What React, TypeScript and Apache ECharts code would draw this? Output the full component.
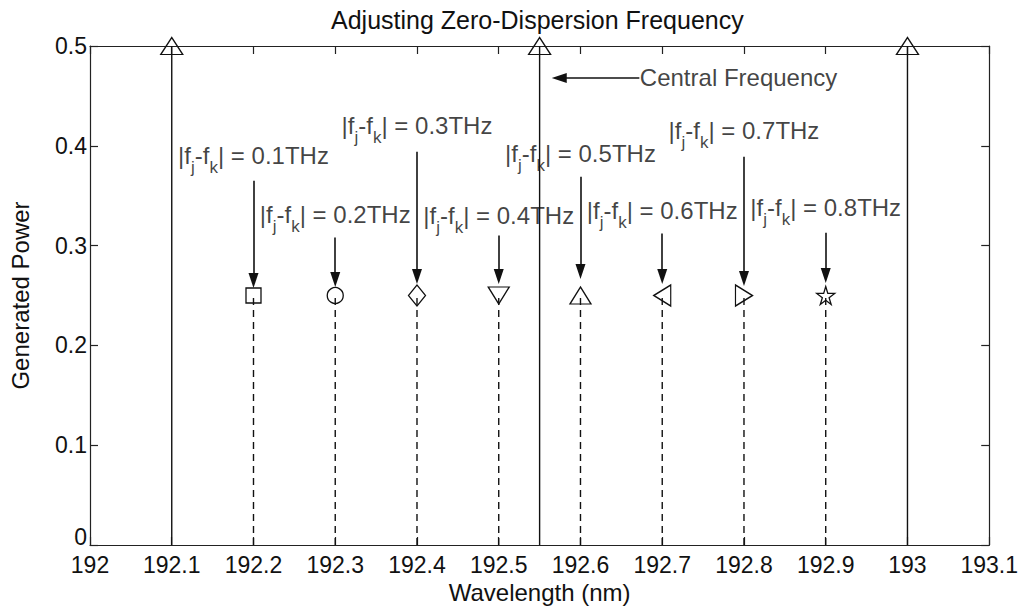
import React, { useEffect, useRef } from "react";
import * as echarts from "echarts";

// ---- axes ----
const X_MIN = 192;
const X_MAX = 193.1;
const X_STEP = 0.1;
const Y_MIN = 0;
const Y_MAX = 0.5;
const Y_STEP = 0.1;

// ---- pump (solid stems, triangle markers) ----
const pumpFreq = [192.1, 192.55, 193.0];
const pumpPower = [0.5, 0.5, 0.5];

// ---- generated idlers (dashed stems) ----
const idlerFreq = [192.2, 192.3, 192.4, 192.5, 192.6, 192.7, 192.8, 192.9];
const idlerPower = [0.25, 0.25, 0.25, 0.25, 0.25, 0.25, 0.25, 0.25];
const spacingTHz = ["0.1", "0.2", "0.3", "0.4", "0.5", "0.6", "0.7", "0.8"];
// annotation text heights and arrow spans (in power units)
const labelPower = [0.39, 0.331, 0.42, 0.33, 0.392, 0.335, 0.415, 0.338];
const arrowStart = [0.365, 0.308, 0.394, 0.31, 0.369, 0.312, 0.389, 0.313];
const arrowEnd = [0.265, 0.266, 0.269, 0.269, 0.274, 0.269, 0.267, 0.27];

const centralText = "Central Frequency";
const centralArrowFrom = [192.672, 0.468];
const centralArrowTo = [192.574, 0.468];

const titleText = "Adjusting Zero-Dispersion Frequency";
const xName = "Wavelength (nm)";
const yName = "Generated Power";

// ---- styles ----
const FONT = "'Liberation Sans', Arial, Helvetica, sans-serif";
const INK = "#111";
const STAR =
  "path://M50,0 L61,35 L98,35 L68,57 L79,91 L50,70 L21,91 L32,57 L2,35 L39,35 Z";
const idlerMarkers = [
  { symbol: "rect", size: 15, rotate: 0 },
  { symbol: "circle", size: 16, rotate: 0 },
  { symbol: "diamond", size: [17, 21], rotate: 0 },
  { symbol: "triangle", size: [21, 17], rotate: 180 },
  { symbol: "triangle", size: [21, 17], rotate: 0 },
  { symbol: "triangle", size: [21, 17], rotate: 90 },
  { symbol: "triangle", size: [21, 17], rotate: -90 },
  { symbol: STAR, size: 18, rotate: 0 },
];

const fmtTick = (v: number) => String(Number(v.toFixed(1)));

function stem(x: number, v: number, marker: any, dashed: boolean) {
  return {
    type: "line",
    xAxisIndex: 0,
    yAxisIndex: 0,
    clip: false,
    silent: true,
    z: 3,
    data: [
      { value: [x, 0], symbol: "none" },
      {
        value: [x, v],
        symbol: marker.symbol,
        symbolSize: marker.size,
        symbolRotate: marker.rotate,
      },
    ],
    lineStyle: {
      color: INK,
      width: 1.4,
      type: dashed ? [7, 5] : "solid",
    },
    itemStyle: {
      color: "rgba(255,255,255,0)",
      borderColor: INK,
      borderWidth: 1.3,
    },
  };
}

export default function App() {
  const ref = useRef<HTMLDivElement>(null);

  useEffect(() => {
    if (!ref.current) return;
    const chart = echarts.init(ref.current, undefined, { renderer: "svg" });

    const series: any[] = [];
    pumpFreq.forEach((x, i) =>
      series.push(
        stem(x, pumpPower[i], { symbol: "triangle", size: [22, 17], rotate: 0 }, false)
      )
    );
    idlerFreq.forEach((x, i) =>
      series.push(stem(x, idlerPower[i], idlerMarkers[i], true))
    );

    const arrowLines: any[] = idlerFreq.map((x, i) => [
      { coord: [x, arrowStart[i]] },
      { coord: [x, arrowEnd[i]] },
    ]);
    arrowLines.push([{ coord: centralArrowFrom }, { coord: centralArrowTo }]);

    // arrow shafts (markLine) + arrow heads (scatter triangles)
    const heads: any[] = idlerFreq.map((x, i) => ({
      value: [x, arrowEnd[i]],
      symbolRotate: 180,
    }));
    heads.push({ value: centralArrowTo, symbolRotate: 90 });

    series.push({
      type: "scatter",
      xAxisIndex: 0,
      yAxisIndex: 0,
      silent: true,
      z: 4,
      symbol: "triangle",
      symbolSize: [10, 15],
      itemStyle: { color: INK, opacity: 1 },
      data: heads,
      markLine: {
        silent: true,
        symbol: ["none", "none"],
        label: { show: false },
        lineStyle: { color: INK, width: 1.6, type: "solid" },
        emphasis: { disabled: true },
        data: arrowLines,
      },
    });

    // frequency-spacing labels
    series.push({
      type: "scatter",
      xAxisIndex: 0,
      yAxisIndex: 0,
      silent: true,
      symbolSize: 1,
      itemStyle: { color: "rgba(0,0,0,0)" },
      z: 5,
      data: idlerFreq.map((x, i) => [x, labelPower[i], spacingTHz[i]]),
      label: {
        show: true,
        position: "inside",
        formatter: (p: any) =>
          `{t||f}{s|j}{t|-f}{s|k}{t|| = ${p.data[2]}THz}`,
        rich: {
          t: {
            fontFamily: FONT,
            fontSize: 24,
            color: INK,
            lineHeight: 40,
            verticalAlign: "middle",
          },
          s: {
            fontFamily: FONT,
            fontSize: 17,
            color: INK,
            lineHeight: 16,
            verticalAlign: "bottom",
          },
        },
      },
    });

    series.push({
      type: "scatter",
      xAxisIndex: 0,
      yAxisIndex: 0,
      silent: true,
      symbolSize: 1,
      itemStyle: { color: "rgba(0,0,0,0)" },
      data: [[centralArrowFrom[0], centralArrowFrom[1], centralText]],
      label: {
        show: true,
        position: "right",
        distance: 0,
        formatter: (p: any) => p.data[2],
        fontFamily: FONT,
        fontSize: 24,
        color: INK,
      },
    });

    const lineStyle = { color: "#222", width: 1.2 };

    chart.setOption({
      animation: false,
      backgroundColor: "#fff",
      title: {
        text: titleText,
        left: 326,
        top: 2,
        textStyle: { fontFamily: FONT, fontSize: 25, fontWeight: "normal", color: INK },
      },
      grid: { left: 78, right: 31, top: 46, bottom: 66 },
      xAxis: [
        {
          type: "value",
          min: X_MIN,
          max: X_MAX,
          interval: X_STEP,
          position: "bottom",
          name: xName,
          nameLocation: "middle",
          nameGap: 32,
          nameTextStyle: { fontFamily: FONT, fontSize: 24, color: INK },
          axisLine: { show: true, onZero: false, lineStyle },
          axisTick: { show: true, inside: true, length: 8, lineStyle },
          axisLabel: {
            fontFamily: FONT,
            fontSize: 23,
            color: INK,
            margin: 8,
            formatter: fmtTick,
          },
          splitLine: { show: false },
        },
        {
          type: "value",
          min: X_MIN,
          max: X_MAX,
          interval: X_STEP,
          position: "top",
          axisLine: { show: true, onZero: false, lineStyle },
          axisTick: { show: true, inside: true, length: 8, lineStyle },
          axisLabel: { show: false },
          splitLine: { show: false },
        },
      ],
      yAxis: [
        {
          type: "value",
          min: Y_MIN,
          max: Y_MAX,
          interval: Y_STEP,
          position: "left",
          name: yName,
          nameLocation: "middle",
          nameGap: 58,
          nameTextStyle: { fontFamily: FONT, fontSize: 24, color: INK },
          axisLine: { show: true, onZero: false, lineStyle },
          axisTick: { show: true, inside: true, length: 8, lineStyle },
          axisLabel: {
            fontFamily: FONT,
            fontSize: 23,
            color: INK,
            margin: 3,
            formatter: (v: number) => (v === 0 ? "{z|0}" : fmtTick(v)),
            rich: {
              z: {
                fontFamily: FONT,
                fontSize: 23,
                color: INK,
                padding: [0, 0, 16, 0],
              },
            },
          },
          splitLine: { show: false },
        },
        {
          type: "value",
          min: Y_MIN,
          max: Y_MAX,
          interval: Y_STEP,
          position: "right",
          axisLine: { show: true, onZero: false, lineStyle },
          axisTick: { show: true, inside: true, length: 8, lineStyle },
          axisLabel: { show: false },
          splitLine: { show: false },
        },
      ],
      series,
    });

    return () => chart.dispose();
  }, []);

  return (
    <div
      ref={ref}
      style={{ position: "absolute", left: 0, top: 0, width: 1021, height: 611 }}
    />
  );
}
